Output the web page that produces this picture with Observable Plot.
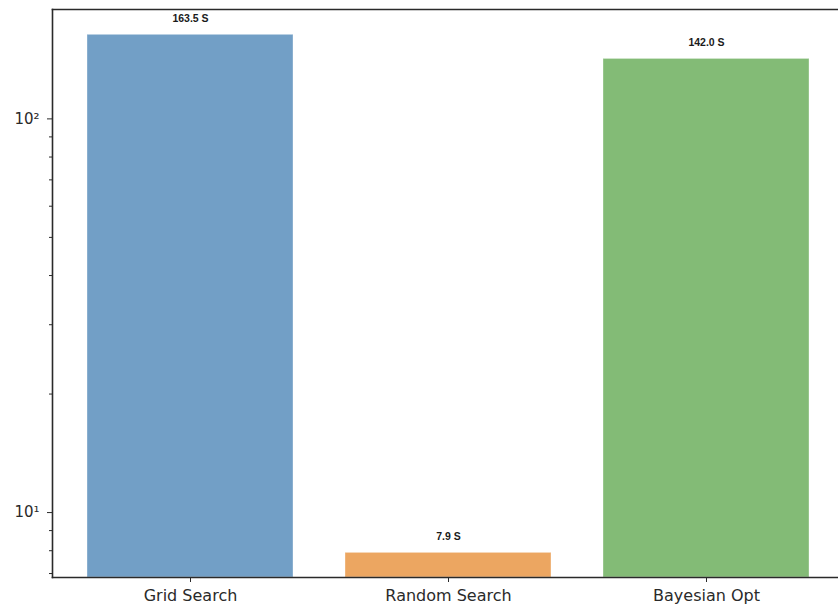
<!DOCTYPE html>
<html>
<head>
<meta charset="utf-8">
<script src="https://cdn.jsdelivr.net/npm/d3@7"></script>
<script src="https://cdn.jsdelivr.net/npm/@observablehq/plot@0.6"></script>
<style>
  html, body { margin: 0; padding: 0; background: #fff; overflow: hidden; }
  #chart svg { display: block; }
</style>
</head>
<body>
<div id="chart"></div>
<script>
// Tuning time per search strategy (seconds), log-scaled
const methods = ["Grid Search", "Random Search", "Bayesian Opt"];
const times = [163.5, 7.9, 142.0];
const barColors = ["#729fc6", "#eca661", "#83bb76"];
const yDomain = [6.84, 189.6];
const majorTicks = [10, 100];
const majorTickLabels = ["10¹", "10²"];
const minorTicks = [7, 8, 9, 20, 30, 40, 50, 60, 70, 80, 90];

const data = methods.map((m, i) => ({method: m, time: times[i]}));
const ink = "#2a2a2a";

const chart = Plot.plot({
  width: 838,
  height: 608,
  marginTop: 9,
  marginBottom: 31,
  marginLeft: 52,
  marginRight: 0,
  style: {fontFamily: "DejaVu Sans", color: ink, background: "#fff"},
  x: {type: "band", domain: methods, range: [50, 846], paddingInner: 0.2, paddingOuter: 0.14, label: null},
  y: {type: "log", domain: yDomain, label: null},
  color: {domain: methods, range: barColors},
  marks: [
    Plot.barY(data, {
      x: "method", y1: yDomain[0], y2: "time", fill: "method",
      stroke: "#ffffff", strokeOpacity: 0.35, strokeWidth: 1, inset: 0
    }),
    Plot.text(data, {
      x: "method", y: "time", text: d => `${d.time.toFixed(1)} S`,
      dy: -16, fontSize: 10.5, fontWeight: "bold", fill: "#1a1a1a",
      fontFamily: "Liberation Sans"
    }),
    Plot.axisY(minorTicks, {tickSize: 3, tickFormat: () => "", stroke: ink, strokeWidth: 1}),
    Plot.axisY(majorTicks, {
      tickSize: 5, tickPadding: 8, fontSize: 15, stroke: ink, strokeWidth: 1,
      tickFormat: v => majorTickLabels[majorTicks.indexOf(v)]
    }),
    Plot.axisX({tickSize: 5, tickPadding: 7, fontSize: 16, stroke: ink, strokeWidth: 1}),
    Plot.frame({anchor: "left", stroke: ink, strokeWidth: 1.6}),
    Plot.frame({anchor: "top", stroke: ink, strokeWidth: 1.6}),
    Plot.frame({anchor: "bottom", stroke: ink, strokeWidth: 1.6})
  ]
});

document.getElementById("chart").appendChild(chart);
</script>
</body>
</html>
